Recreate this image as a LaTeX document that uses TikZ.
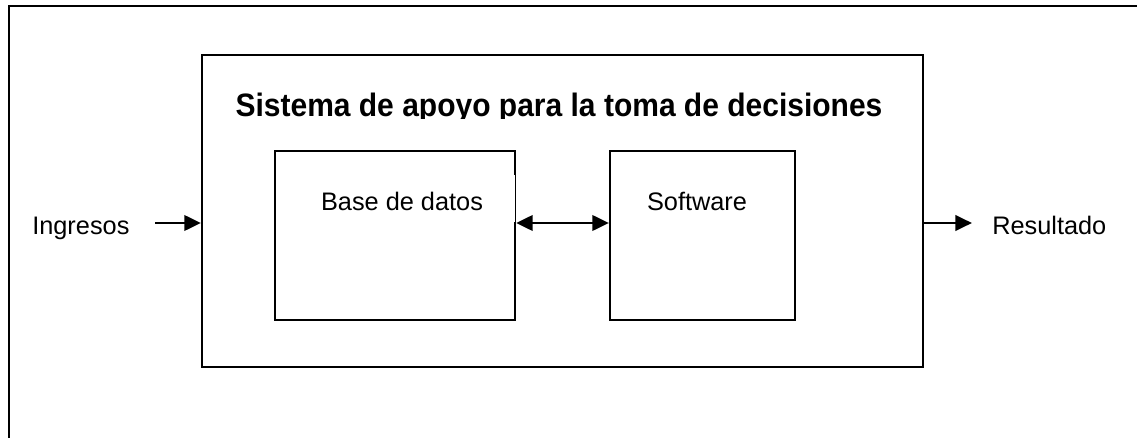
\documentclass[tikz,border=0pt]{standalone}
\usepackage{fontspec}
\setmainfont{Liberation Sans}
\usetikzlibrary{arrows.meta}
\begin{document}
\begin{tikzpicture}[x=0.75pt,y=-0.75pt,
  boxline/.style={draw=black,line width=1.6pt},
  lbl/.style={font=\fontsize{19}{22}\selectfont,inner sep=0pt,anchor=base},
  arr/.style={line width=2.2pt,-{Triangle[length=12.5pt,width=11.5pt]}},
  darr/.style={line width=2.2pt,{Triangle[length=12.5pt,width=11.5pt]}-{Triangle[length=12.5pt,width=11.5pt]}}]
\useasboundingbox (0,0) rectangle (1137,438);
\clip (0,0) rectangle (1137,438);
% outer frame (only left and top visible)
\draw[boxline] (9,460) -- (9,6) -- (1160,6);
% system box
\node[boxline,minimum width=721*0.75pt,minimum height=312*0.75pt,inner sep=0pt] (sys) at (562.5,211) {};
\node[boxline,minimum width=240*0.75pt,minimum height=169*0.75pt,inner sep=0pt] (bd) at (395,235.5) {};
\node[boxline,minimum width=185*0.75pt,minimum height=169*0.75pt,inner sep=0pt] (sw) at (702.5,235.5) {};
% thin segment on right side of base de datos
\draw[white,line width=2pt] (515,175) -- (515,222);
\draw[black,line width=0.5pt] (515,175) -- (515,222);
% title, clipped below baseline
\begin{scope}
\clip (200,80) rectangle (925,119);
\node[inner sep=0pt,anchor=base,yscale=1.08,font=\bfseries\fontsize{22.5}{26}\selectfont] (title) at (559,117) {Sistema de apoyo para la toma de decisiones};
\end{scope}
\node[lbl] (bdl) at (402,210) {Base de datos};
\node[lbl] (swl) at (697,210) {Software};
\node[lbl,anchor=base west] (ing) at (32,234) {Ingresos};
\node[lbl,anchor=base west] (res) at (992,234) {Resultado};
\coordinate (inA) at (155,223);
\coordinate (outB) at (972,223);
\draw[arr] (inA) -- (sys.west |- inA);
\draw[darr] (bd.east |- inA) -- (sw.west |- inA);
\draw[arr] (sys.east |- outB) -- (outB);
\end{tikzpicture}
\end{document}
